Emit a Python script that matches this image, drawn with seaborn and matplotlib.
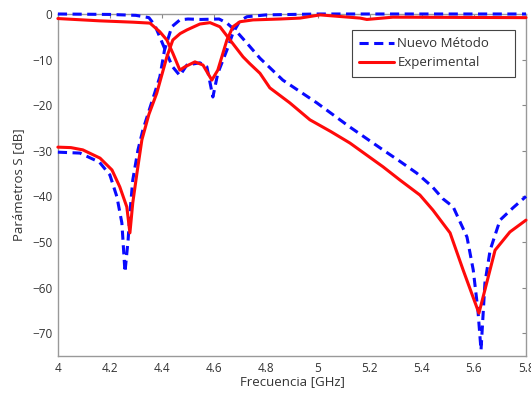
import numpy as np
import pandas as pd
import seaborn as sns
import matplotlib.pyplot as plt

# Simulated (Nuevo Método) transmission and reflection
blue_s21_f = [4.0, 4.085, 4.16, 4.2, 4.227, 4.246, 4.258, 4.27, 4.277, 4.288, 4.308, 4.327,
              4.36, 4.392, 4.41, 4.438, 4.469, 4.5, 4.55, 4.62, 4.65, 4.688, 4.727, 4.777,
              4.865, 4.996, 5.123, 5.25, 5.315, 5.38, 5.44, 5.48, 5.52, 5.573, 5.597, 5.615,
              5.627, 5.642, 5.662, 5.7, 5.75, 5.8]
blue_s21_db = [-30.3, -30.5, -32.5, -35.3, -40.1, -45.8, -56.6, -49.6, -43.6, -36.4, -29.8, -25.4,
               -19.5, -13.8, -7.9, -2.8, -1.3, -1.1, -1.2, -1.1, -2.0, -3.9, -6.4, -9.7,
               -14.5, -19.5, -24.8, -29.8, -32.3, -34.9, -37.9, -40.5, -42.3, -48.9, -56.1, -64.9,
               -73.7, -59.0, -51.8, -45.2, -42.5, -40.0]

blue_s11_f = [4.0, 4.2, 4.3, 4.35, 4.373, 4.41, 4.44, 4.469, 4.496, 4.546, 4.573, 4.596,
              4.615, 4.65, 4.673, 4.7, 4.727, 4.8, 5.0, 5.8]
blue_s11_db = [0.0, -0.1, -0.3, -0.8, -2.5, -7.5, -11.5, -13.5, -11.2, -10.7, -11.6, -18.2,
               -13.0, -7.9, -4.2, -1.5, -0.6, -0.2, 0.0, 0.0]

# Measured (Experimental)
red_s21_f = [4.0, 4.05, 4.096, 4.162, 4.208, 4.238, 4.265, 4.277, 4.288, 4.304, 4.323, 4.35,
             4.38, 4.419, 4.442, 4.47, 4.496, 4.546, 4.585, 4.623, 4.662, 4.712, 4.738, 4.777,
             4.815, 4.892, 4.969, 5.05, 5.123, 5.25, 5.315, 5.392, 5.442, 5.508, 5.558, 5.619,
             5.642, 5.681, 5.738, 5.8]
red_s21_db = [-29.2, -29.3, -29.8, -31.6, -34.2, -37.9, -42.3, -48.0, -41.4, -34.9, -27.6, -22.0,
              -17.4, -9.4, -5.7, -4.3, -3.5, -2.2, -1.9, -2.8, -5.7, -9.4, -10.9, -13.0,
              -16.2, -19.5, -23.2, -25.8, -28.3, -33.5, -36.4, -39.7, -43.0, -48.0, -56.1, -65.6,
              -60.5, -51.8, -47.8, -45.2]

red_s11_f = [4.0, 4.16, 4.29, 4.354, 4.392, 4.419, 4.442, 4.469, 4.488, 4.527, 4.558, 4.592,
             4.615, 4.65, 4.673, 4.7, 4.75, 4.854, 4.931, 5.008, 5.096, 5.162, 5.188, 5.288, 5.8]
red_s11_db = [-1.0, -1.5, -1.8, -2.0, -3.9, -5.7, -8.6, -12.3, -11.6, -10.5, -11.2, -14.5,
              -12.3, -5.7, -2.8, -1.7, -1.3, -1.1, -0.9, -0.2, -0.6, -0.9, -1.2, -0.7, -0.8]

x_ticks = [4, 4.2, 4.4, 4.6, 4.8, 5, 5.2, 5.4, 5.6, 5.8]
x_labels = ["4", "4.2", "4.4", "4.6", "4.8", "5", "5.2", "5.4", "5.6", "5.8"]
y_ticks = [-70, -60, -50, -40, -30, -20, -10, 0]

sns.set_style("white")
plt.rcParams['font.family'] = ['Open Sans', 'DejaVu Sans']
plt.rcParams['xtick.direction'] = 'in'
plt.rcParams['ytick.direction'] = 'in'

fig = plt.figure(figsize=(5.31, 3.94), dpi=100)
ax = fig.add_axes([0.109, 0.0964, 0.8816, 0.8681])

blue = "#0a0aff"
red = "#ff0a0a"
lw = 2.2
dash = (0, (3, 1.8))

sns.lineplot(x=blue_s21_f, y=blue_s21_db, ax=ax, color=blue, lw=lw, sort=False,
             estimator=None, label="Nuevo Método", linestyle=dash, zorder=3)
sns.lineplot(x=blue_s11_f, y=blue_s11_db, ax=ax, color=blue, lw=lw, sort=False,
             estimator=None, linestyle=dash, zorder=3)
sns.lineplot(x=red_s21_f, y=red_s21_db, ax=ax, color=red, lw=lw, sort=False,
             estimator=None, label="Experimental", zorder=3)
sns.lineplot(x=red_s11_f, y=red_s11_db, ax=ax, color=red, lw=lw, sort=False,
             estimator=None, zorder=3)
for ln in ax.lines:
    ln.set_clip_on(False)

ax.set_xlim(4, 5.8)
ax.set_ylim(-75, 0)
ax.set_xticks(x_ticks)
ax.set_xticklabels(x_labels)
ax.set_yticks(y_ticks)
ax.tick_params(top=True, right=True, length=3, color="#888888", labelsize=8.5,
               labelcolor="#333333", width=0.8, pad=4)
for s in ax.spines.values():
    s.set_color("#999999")
    s.set_linewidth(1.0)

ax.set_xlabel("Frecuencia [GHz]", fontsize=9.5, color="#333333", labelpad=0)
ax.set_ylabel("Parámetros S [dB]", fontsize=9.5, color="#333333", labelpad=5)

leg = ax.legend(loc="upper left", bbox_to_anchor=(0.628, 0.7, 0.348, 0.253), mode="expand",
                borderaxespad=0, fancybox=False, framealpha=1, edgecolor="#444444",
                fontsize=9.5, handlelength=2.65, handletextpad=0.25, borderpad=0.55,
                labelspacing=0.45)
leg.get_frame().set_linewidth(0.8)
for t in leg.get_texts():
    t.set_color("#333333")

fig.savefig("out.png", dpi=100)
